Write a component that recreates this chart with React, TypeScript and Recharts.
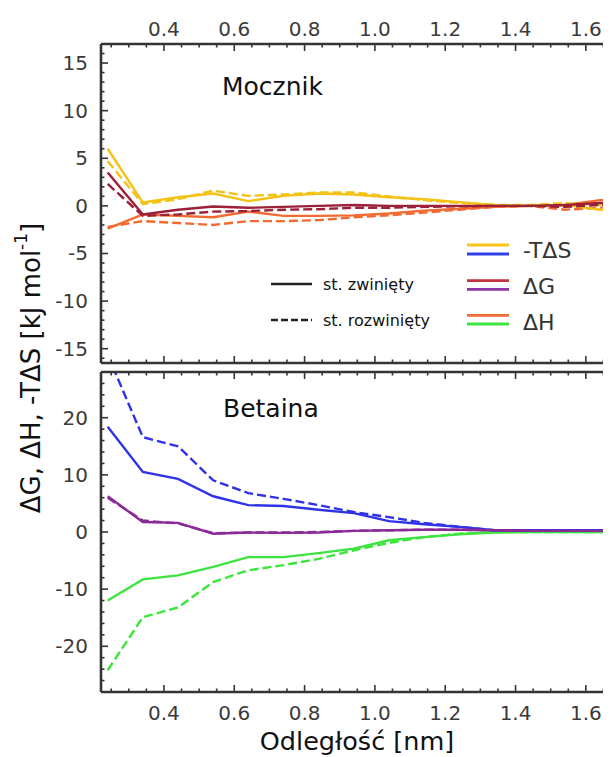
import { LineChart, Line, XAxis, YAxis } from "recharts";

// distance [nm]
const dist = [0.24, 0.34, 0.44, 0.54, 0.64, 0.74, 0.84, 0.94, 1.04, 1.14, 1.24, 1.34, 1.44, 1.54, 1.64, 1.74];

// Mocznik (urea)
const ureaTdsFolded = [6.0, 0.35, 0.9, 1.3, 0.5, 1.05, 1.3, 1.2, 0.9, 0.7, 0.4, 0.1, 0.0, 0.1, -0.4, -0.5];
const ureaTdsUnfolded = [4.7, 0.2, 0.7, 1.6, 1.05, 1.2, 1.4, 1.4, 1.0, 0.6, 0.3, 0.1, 0.1, 0.3, 0.1, 0.0];
const ureaDgFolded = [3.5, -0.9, -0.4, -0.07, -0.2, -0.1, 0.0, 0.1, 0.0, 0.0, 0.0, 0.0, 0.0, 0.1, 0.3, 0.2];
const ureaDgUnfolded = [2.3, -1.05, -0.9, -0.6, -0.55, -0.4, -0.35, -0.2, -0.2, -0.1, -0.05, 0.0, 0.0, -0.1, 0.1, 0.1];
const ureaDhFolded = [-2.4, -0.9, -1.05, -1.2, -0.6, -1.05, -1.05, -1.0, -0.8, -0.5, -0.3, -0.1, 0.0, 0.1, 0.6, 0.5];
const ureaDhUnfolded = [-2.2, -1.6, -1.8, -2.0, -1.6, -1.6, -1.5, -1.2, -1.0, -0.7, -0.4, -0.1, 0.0, -0.4, -0.2, 0.0];

// Betaina
const betTdsFolded = [18.4, 10.5, 9.3, 6.25, 4.7, 4.55, 3.9, 3.3, 1.9, 1.35, 0.9, 0.3, 0.3, 0.3, 0.3, 0.3];
const betTdsUnfolded = [31.0, 16.6, 15.0, 9.05, 6.8, 5.8, 4.7, 3.5, 2.6, 1.6, 0.9, 0.3, 0.2, 0.2, 0.2, 0.2];
const betDgFolded = [6.25, 1.75, 1.6, -0.3, -0.1, -0.15, -0.1, 0.2, 0.3, 0.4, 0.4, 0.3, 0.2, 0.2, 0.2, 0.2];
const betDgUnfolded = [6.0, 2.0, 1.5, -0.2, -0.1, -0.1, 0.0, 0.2, 0.3, 0.4, 0.4, 0.3, 0.2, 0.2, 0.2, 0.2];
const betDhFolded = [-12.0, -8.3, -7.6, -6.1, -4.4, -4.4, -3.7, -2.9, -1.45, -0.9, -0.4, -0.1, 0.0, 0.0, 0.0, 0.0];
const betDhUnfolded = [-24.2, -14.9, -13.2, -8.75, -6.7, -5.8, -4.7, -3.2, -1.9, -0.9, -0.3, 0.0, 0.0, 0.0, 0.0, 0.0];

// ticks
const xTicks = [0.25, 0.3, 0.35, 0.4, 0.45, 0.5, 0.55, 0.6, 0.65, 0.7, 0.75, 0.8, 0.85, 0.9, 0.95, 1.0, 1.05, 1.1, 1.15, 1.2, 1.25, 1.3, 1.35, 1.4, 1.45, 1.5, 1.55, 1.6, 1.65];
const xMajor = [0.4, 0.6, 0.8, 1.0, 1.2, 1.4, 1.6];
const yTopTicks = [-16, -15, -14, -13, -12, -11, -10, -9, -8, -7, -6, -5, -4, -3, -2, -1, 0, 1, 2, 3, 4, 5, 6, 7, 8, 9, 10, 11, 12, 13, 14, 15, 16];
const yTopMajor = [-15, -10, -5, 0, 5, 10, 15];
const yBotTicks = [-26, -24, -22, -20, -18, -16, -14, -12, -10, -8, -6, -4, -2, 0, 2, 4, 6, 8, 10, 12, 14, 16, 18, 20, 22, 24, 26];
const yBotMajor = [-20, -10, 0, 10, 20];

const urea = dist.map((d, i) => ({
  d,
  tdsF: ureaTdsFolded[i], tdsU: ureaTdsUnfolded[i],
  dgF: ureaDgFolded[i], dgU: ureaDgUnfolded[i],
  dhF: ureaDhFolded[i], dhU: ureaDhUnfolded[i],
}));
const betaine = dist.map((d, i) => ({
  d,
  tdsF: betTdsFolded[i], tdsU: betTdsUnfolded[i],
  dgF: betDgFolded[i], dgU: betDgUnfolded[i],
  dhF: betDhFolded[i], dhU: betDhUnfolded[i],
}));

const FONT = "DejaVu Sans";
const FRAME = "#353535";
const DASH = "9 4";
const W = 640;

function makeTick(side: string, majors: number[], showLabel: boolean, fmt: (v: number) => string) {
  return (props: any) => {
    const { x, y, payload } = props;
    const v = payload.value;
    const major = majors.some((m) => Math.abs(m - v) < 1e-6);
    const len = major ? 7 : 3.5;
    let line = null;
    let label = null;
    const txt = { fontFamily: FONT, fontSize: 20, fill: "#3a3a3a" };
    if (side === "top") {
      line = <line x1={x} x2={x} y1={y} y2={y + len} />;
      if (showLabel && major) label = <text x={x} y={y - 8} textAnchor="middle" {...txt}>{fmt(v)}</text>;
    } else if (side === "bottom") {
      line = <line x1={x} x2={x} y1={y} y2={y - len} />;
      if (showLabel && major) label = <text x={x} y={y + 28} textAnchor="middle" {...txt}>{fmt(v)}</text>;
    } else if (side === "left") {
      line = <line x1={x} x2={x + len} y1={y} y2={y} />;
      if (showLabel && major) label = <text x={x - 13} y={y + 7} textAnchor="end" {...txt}>{fmt(v)}</text>;
    } else {
      line = <line x1={x} x2={x - len} y1={y} y2={y} />;
    }
    return (
      <g stroke={FRAME} strokeWidth={1.6}>
        {line}
        {label && <g stroke="none">{label}</g>}
      </g>
    );
  };
}

const fmtX = (v: number) => v.toFixed(1);
const fmtY = (v: number) => String(v);

function Panel({ data, height, margin, yDomain, yTicks, yMajor, topLabels, bottomLabels, topH, bottomH, colors }: any) {
  const axisLine = { stroke: FRAME, strokeWidth: 2.6 };
  return (
    <LineChart width={W} height={height} data={data} margin={margin}>
      <XAxis xAxisId="t" orientation="top" type="number" dataKey="d" domain={[0.221, 1.68]} allowDataOverflow
        ticks={xTicks} interval={0} tickSize={0} tickMargin={0} tickLine={false} height={topH} axisLine={axisLine}
        tick={makeTick("top", xMajor, topLabels, fmtX)} />
      <XAxis xAxisId="b" orientation="bottom" type="number" dataKey="d" domain={[0.221, 1.68]} allowDataOverflow
        ticks={xTicks} interval={0} tickSize={0} tickMargin={0} tickLine={false} height={bottomH} axisLine={axisLine}
        tick={makeTick("bottom", xMajor, bottomLabels, fmtX)} />
      <YAxis yAxisId="l" orientation="left" type="number" domain={yDomain} allowDataOverflow
        ticks={yTicks} interval={0} tickSize={0} tickMargin={0} tickLine={false} width={10} axisLine={axisLine}
        tick={makeTick("left", yMajor, true, fmtY)} />
      <YAxis yAxisId="r" orientation="right" type="number" domain={yDomain} allowDataOverflow
        ticks={yTicks} interval={0} tickSize={0} tickMargin={0} tickLine={false} width={10} axisLine={axisLine}
        tick={makeTick("right", yMajor, false, fmtY)} />
      <Line xAxisId="b" yAxisId="l" dataKey="dhU" stroke={colors.dh} strokeWidth={2.4} strokeDasharray={DASH} dot={false} isAnimationActive={false} />
      <Line xAxisId="b" yAxisId="l" dataKey="dhF" stroke={colors.dh} strokeWidth={2.4} dot={false} isAnimationActive={false} />
      <Line xAxisId="b" yAxisId="l" dataKey="tdsU" stroke={colors.tds} strokeWidth={2.4} strokeDasharray={DASH} dot={false} isAnimationActive={false} />
      <Line xAxisId="b" yAxisId="l" dataKey="tdsF" stroke={colors.tds} strokeWidth={2.4} dot={false} isAnimationActive={false} />
      <Line xAxisId="b" yAxisId="l" dataKey="dgU" stroke={colors.dg} strokeWidth={2.4} strokeDasharray={DASH} dot={false} isAnimationActive={false} />
      <Line xAxisId="b" yAxisId="l" dataKey="dgF" stroke={colors.dg} strokeWidth={2.4} dot={false} isAnimationActive={false} />
    </LineChart>
  );
}

export default function App() {
  const txt = { fontFamily: FONT, fill: "#111" };
  return (
    <div style={{ position: "relative", width: 603, height: 749, overflow: "hidden", background: "#fff" }}>
      <div style={{ position: "absolute", left: 0, top: 0 }}>
        <Panel data={urea} height={362} margin={{ top: 26, left: 83, right: 24, bottom: 2 }}
          yDomain={[-16.5, 17]} yTicks={yTopTicks} yMajor={yTopMajor} topLabels={true} bottomLabels={false}
          topH={10} bottomH={5}
          colors={{ tds: "#f3c214", dg: "#9c2038", dh: "#f26a30" }} />
      </div>
      <div style={{ position: "absolute", left: 0, top: 362 }}>
        <Panel data={betaine} height={387} margin={{ top: 1, left: 83, right: 24, bottom: 55 }}
          yDomain={[-28, 28]} yTicks={yBotTicks} yMajor={yBotMajor} topLabels={false} bottomLabels={true}
          topH={1} bottomH={10}
          colors={{ tds: "#2f32e6", dg: "#8a2a98", dh: "#3de43d" }} />
      </div>
      <svg width={603} height={749} style={{ position: "absolute", left: 0, top: 0, pointerEvents: "none" }}>
        <text x={214} y={87} fontSize={25} {...txt}>Mocznik</text>
        <text x={215} y={409} fontSize={25} {...txt}>Betaina</text>

        <line x1={263} x2={304} y1={276} y2={276} stroke="#222" strokeWidth={2.6} />
        <text x={315} y={282} fontSize={16} {...txt}>st. zwinięty</text>
        <line x1={263} x2={304} y1={312} y2={312} stroke="#222" strokeWidth={2.6} strokeDasharray="7 3" />
        <text x={315} y={318} fontSize={16} {...txt}>st. rozwinięty</text>

        <line x1={459} x2={501} y1={237} y2={237} stroke="#f5c518" strokeWidth={2.8} />
        <line x1={459} x2={501} y1={246} y2={246} stroke="#2f3ee8" strokeWidth={2.8} />
        <text x={515} y={250} fontSize={22} fill="#333" fontFamily={FONT}>-TΔS</text>
        <line x1={459} x2={501} y1={272.7} y2={272.7} stroke="#c0323c" strokeWidth={2.8} />
        <line x1={459} x2={501} y1={281.3} y2={281.3} stroke="#8e35a5" strokeWidth={2.8} />
        <text x={515} y={285.7} fontSize={22} fill="#333" fontFamily={FONT}>ΔG</text>
        <line x1={459} x2={501} y1={307.3} y2={307.3} stroke="#ef6a35" strokeWidth={2.8} />
        <line x1={459} x2={501} y1={316} y2={316} stroke="#3ce63c" strokeWidth={2.8} />
        <text x={515} y={321.7} fontSize={22} fill="#333" fontFamily={FONT}>ΔH</text>

        <text x={23} y={360} fontSize={26} textAnchor="middle" dominantBaseline="central"
          transform="rotate(-90 23 360)" {...txt}>
          ΔG, ΔH, -TΔS [kJ mol<tspan fontSize={17} dy={-10}>-1</tspan><tspan dy={10}>]</tspan>
        </text>
        <text x={349} y={742} fontSize={25.5} textAnchor="middle" {...txt}>Odległość [nm]</text>
      </svg>
    </div>
  );
}
